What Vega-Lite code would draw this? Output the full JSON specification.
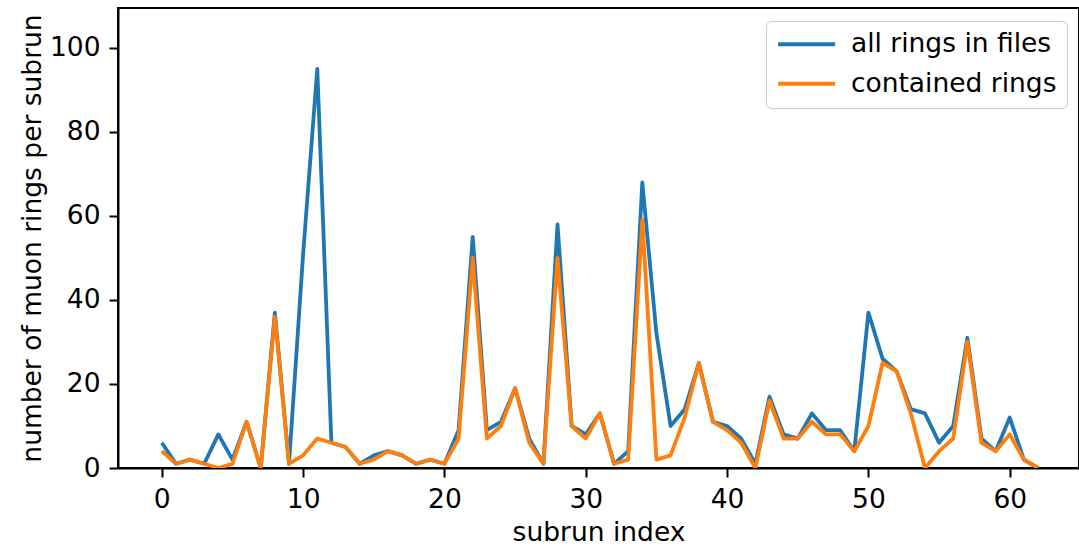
{
  "$schema": "https://vega.github.io/schema/vega-lite/v6.json",
  "autosize": "none",
  "padding": {"left": 118, "top": 8, "right": 0, "bottom": 80},
  "width": 961,
  "height": 460,
  "background": "white",
  "data": {
    "values": [
      {"subrun": 0, "all rings in files": 6, "contained rings": 4},
      {"subrun": 1, "all rings in files": 1, "contained rings": 1},
      {"subrun": 2, "all rings in files": 2, "contained rings": 2},
      {"subrun": 3, "all rings in files": 1, "contained rings": 1},
      {"subrun": 4, "all rings in files": 8, "contained rings": 0},
      {"subrun": 5, "all rings in files": 2, "contained rings": 1},
      {"subrun": 6, "all rings in files": 11, "contained rings": 11},
      {"subrun": 7, "all rings in files": 0, "contained rings": 0},
      {"subrun": 8, "all rings in files": 37, "contained rings": 36},
      {"subrun": 9, "all rings in files": 1, "contained rings": 1},
      {"subrun": 10, "all rings in files": 51, "contained rings": 3},
      {"subrun": 11, "all rings in files": 95, "contained rings": 7},
      {"subrun": 12, "all rings in files": 6, "contained rings": 6},
      {"subrun": 13, "all rings in files": 5, "contained rings": 5},
      {"subrun": 14, "all rings in files": 1, "contained rings": 1},
      {"subrun": 15, "all rings in files": 3, "contained rings": 2},
      {"subrun": 16, "all rings in files": 4, "contained rings": 4},
      {"subrun": 17, "all rings in files": 3, "contained rings": 3},
      {"subrun": 18, "all rings in files": 1, "contained rings": 1},
      {"subrun": 19, "all rings in files": 2, "contained rings": 2},
      {"subrun": 20, "all rings in files": 1, "contained rings": 1},
      {"subrun": 21, "all rings in files": 9, "contained rings": 7},
      {"subrun": 22, "all rings in files": 55, "contained rings": 50},
      {"subrun": 23, "all rings in files": 9, "contained rings": 7},
      {"subrun": 24, "all rings in files": 11, "contained rings": 10},
      {"subrun": 25, "all rings in files": 19, "contained rings": 19},
      {"subrun": 26, "all rings in files": 7, "contained rings": 6},
      {"subrun": 27, "all rings in files": 1, "contained rings": 1},
      {"subrun": 28, "all rings in files": 58, "contained rings": 50},
      {"subrun": 29, "all rings in files": 10, "contained rings": 10},
      {"subrun": 30, "all rings in files": 8, "contained rings": 7},
      {"subrun": 31, "all rings in files": 13, "contained rings": 13},
      {"subrun": 32, "all rings in files": 1, "contained rings": 1},
      {"subrun": 33, "all rings in files": 4, "contained rings": 2},
      {"subrun": 34, "all rings in files": 68, "contained rings": 59},
      {"subrun": 35, "all rings in files": 32, "contained rings": 2},
      {"subrun": 36, "all rings in files": 10, "contained rings": 3},
      {"subrun": 37, "all rings in files": 14, "contained rings": 12},
      {"subrun": 38, "all rings in files": 25, "contained rings": 25},
      {"subrun": 39, "all rings in files": 11, "contained rings": 11},
      {"subrun": 40, "all rings in files": 10, "contained rings": 9},
      {"subrun": 41, "all rings in files": 7, "contained rings": 6},
      {"subrun": 42, "all rings in files": 1, "contained rings": 0},
      {"subrun": 43, "all rings in files": 17, "contained rings": 16},
      {"subrun": 44, "all rings in files": 8, "contained rings": 7},
      {"subrun": 45, "all rings in files": 7, "contained rings": 7},
      {"subrun": 46, "all rings in files": 13, "contained rings": 11},
      {"subrun": 47, "all rings in files": 9, "contained rings": 8},
      {"subrun": 48, "all rings in files": 9, "contained rings": 8},
      {"subrun": 49, "all rings in files": 4, "contained rings": 4},
      {"subrun": 50, "all rings in files": 37, "contained rings": 10},
      {"subrun": 51, "all rings in files": 26, "contained rings": 25},
      {"subrun": 52, "all rings in files": 23, "contained rings": 23},
      {"subrun": 53, "all rings in files": 14, "contained rings": 13},
      {"subrun": 54, "all rings in files": 13, "contained rings": 0},
      {"subrun": 55, "all rings in files": 6, "contained rings": 4},
      {"subrun": 56, "all rings in files": 10, "contained rings": 7},
      {"subrun": 57, "all rings in files": 31, "contained rings": 30},
      {"subrun": 58, "all rings in files": 7, "contained rings": 6},
      {"subrun": 59, "all rings in files": 4, "contained rings": 4},
      {"subrun": 60, "all rings in files": 12, "contained rings": 8},
      {"subrun": 61, "all rings in files": 2, "contained rings": 2},
      {"subrun": 62, "all rings in files": 0, "contained rings": 0}
    ]
  },
  "transform": [
    {"fold": ["all rings in files", "contained rings"], "as": ["series", "n"]}
  ],
  "mark": {"type": "line", "strokeWidth": 3.8, "clip": true, "strokeJoin": "round", "strokeCap": "butt"},
  "encoding": {
    "x": {
      "field": "subrun",
      "type": "quantitative",
      "scale": {"domain": [-3.1, 64.9], "nice": false, "zero": false},
      "axis": {"values": [0, 10, 20, 30, 40, 50, 60], "title": "subrun index", "titlePadding": 7}
    },
    "y": {
      "field": "n",
      "type": "quantitative",
      "scale": {"domain": [0, 109.5], "nice": false},
      "axis": {"values": [0, 20, 40, 60, 80, 100], "title": "number of muon rings per subrun", "titlePadding": 3}
    },
    "color": {
      "field": "series",
      "type": "nominal",
      "scale": {"domain": ["all rings in files", "contained rings"], "range": ["#1f77b4", "#ff7f0e"]},
      "legend": {
        "title": null,
        "orient": "none",
        "legendX": 648,
        "legendY": 13,
        "symbolType": "M-4,0H4",
        "symbolSize": 203,
        "symbolOffset": 17.4,
        "symbolStrokeWidth": 3.8,
        "symbolFillColor": "transparent",
        "labelFontSize": 26.5,
        "labelOffset": 31,
        "labelLimit": 0,
        "labelColor": "black",
        "labelFont": "DejaVu Sans",
        "padding": 10,
        "rowPadding": 12.5,
        "strokeColor": "#cccccc",
        "cornerRadius": 5,
        "fillColor": "rgba(255,255,255,0.8)"
      }
    }
  },
  "config": {
    "font": "DejaVu Sans",
    "view": {"stroke": "black", "strokeWidth": 2},
    "axis": {
      "grid": false,
      "domainColor": "black",
      "domainWidth": 2,
      "tickColor": "black",
      "tickWidth": 2,
      "tickSize": 9,
      "labelFontSize": 26.5,
      "labelColor": "black",
      "labelFont": "DejaVu Sans",
      "labelPadding": 9,
      "titleFontSize": 26.5,
      "titleFontWeight": "normal",
      "titleColor": "black",
      "titleFont": "DejaVu Sans"
    }
  }
}
